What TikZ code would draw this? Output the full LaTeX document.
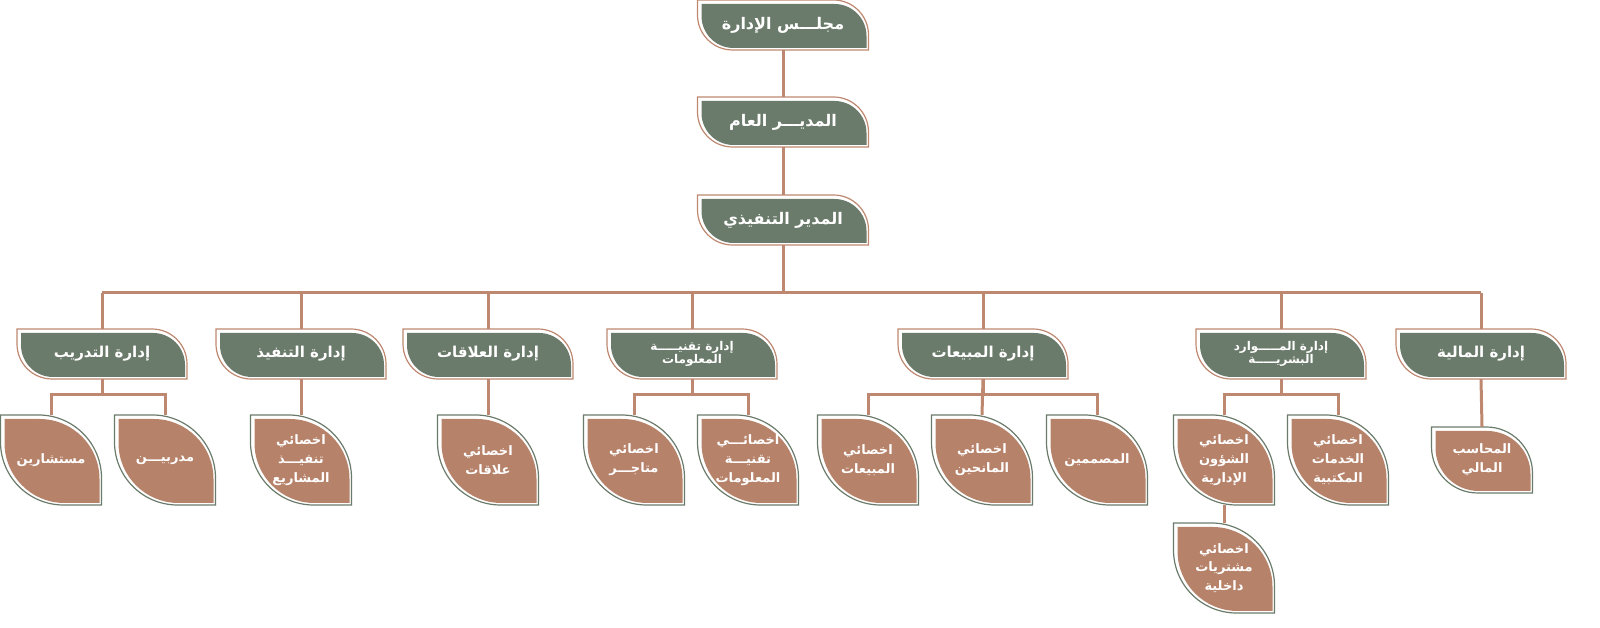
\documentclass[tikz,border=0pt]{standalone}
\usepackage{fontspec}
\TeXXeTstate=1
\newfontfamily\arabicfont[Script=Arabic]{DejaVu Sans}
\definecolor{grn}{HTML}{6B7B6B}
\definecolor{brn}{HTML}{B7826A}
\definecolor{lnc}{HTML}{BE8770}
\newcommand\ar[1]{\beginR #1\endR}
% name, cx, cy(image), w, h, fill, line, text, fontsize
\newcommand\obox[9]{%
  \pgfmathsetmacro\Lx{#2-#4/2}\pgfmathsetmacro\Rx{#2+#4/2}%
  \pgfmathsetmacro\Ty{628-#3+#5/2}\pgfmathsetmacro\By{628-#3-#5/2}%
  \pgfmathsetmacro\rr{min(#4,#5)*0.7}%
  \pgfmathsetmacro\LxI{\Lx+4}\pgfmathsetmacro\RxI{\Rx-2}%
  \pgfmathsetmacro\TyI{\Ty-4}\pgfmathsetmacro\ByI{\By+2}%
  \pgfmathsetmacro\ri{\rr-3}%
  \pgfmathsetmacro\bls{#9*1.45}%
  \draw[#7,line width=1.2pt] (\Lx,\Ty) -- ({\Rx-\rr},\Ty) arc[start angle=90,end angle=0,radius=\rr] -- (\Rx,\By) -- ({\Lx+\rr},\By) arc[start angle=270,end angle=180,radius=\rr] -- cycle;
  \fill[#6] (\LxI,\TyI) -- ({\RxI-\ri},\TyI) arc[start angle=90,end angle=0,radius=\ri] -- (\RxI,\ByI) -- ({\LxI+\ri},\ByI) arc[start angle=270,end angle=180,radius=\ri] -- cycle;
  \node[minimum width=#4,minimum height=#5,inner sep=0,align=center,text=white,font=\arabicfont\bfseries\fontsize{#9}{\bls}\selectfont] (#1) at (#2,628-#3) {#8};%
}
\newcommand\sub[3]{\draw[conn] (#1.south) -- (#1.south |- 0,628-395); \draw[conn] (#2.north) |- (#1.south |- 0,628-395) -| (#3.north);}
\tikzset{conn/.style={lnc,line width=3pt}}
\begin{document}
\begin{tikzpicture}[x=1pt,y=1pt]
% top chain
\obox{board}{783}{25}{171}{50}{grn}{lnc}{\ar{مجلـــس الإدارة}}{16}
\obox{gm}{783}{122}{171}{50}{grn}{lnc}{\ar{المديـــر العام}}{16}
\obox{ceo}{783}{220}{171}{50}{grn}{lnc}{\ar{المدير التنفيذي}}{16}
\draw[conn] (board.south) -- (gm.north);
\draw[conn] (gm.south) -- (ceo.north);
% departments
\obox{d1}{102}{354}{170}{50}{grn}{lnc}{\ar{إدارة التدريب}}{15}
\obox{d2}{301}{354}{170}{50}{grn}{lnc}{\ar{إدارة التنفيذ}}{15}
\obox{d3}{488}{354}{170}{50}{grn}{lnc}{\ar{إدارة العلاقات}}{15}
\obox{d4}{692}{354}{170}{50}{grn}{lnc}{\ar{إدارة تقنيـــــة}\\[-5pt]\ar{المعلومات}}{12}
\obox{d5}{983}{354}{170}{50}{grn}{lnc}{\ar{إدارة المبيعات}}{15}
\obox{d6}{1281}{354}{170}{50}{grn}{lnc}{\ar{إدارة المـــــوارد}\\[-5pt]\ar{البشريـــــة}}{12}
\obox{d7}{1481}{354}{170}{50}{grn}{lnc}{\ar{إدارة المالية}}{15}
\coordinate (busL) at (102,628-293);
\coordinate (busR) at (1481,628-293);
\draw[conn] (ceo.south) -- (783,628-293);
\draw[conn] (busL) -- (busR);
\foreach \d in {d1,d2,d3,d4,d5,d6,d7} \draw[conn] (\d.north |- busL) -- (\d.north);
% children
\obox{c1}{51}{460}{101}{90}{brn}{grn}{\ar{مستشارين}}{13}
\obox{c2}{165}{460}{101}{90}{brn}{grn}{\ar{مدربيـــن}}{13}
\obox{c3}{301}{460}{101}{90}{brn}{grn}{\ar{اخصائي}\\\ar{تنفيـــذ}\\\ar{المشاريع}}{13}
\obox{c4}{488}{460}{101}{90}{brn}{grn}{\ar{اخصائي}\\\ar{علاقات}}{13}
\obox{c5}{634}{460}{101}{90}{brn}{grn}{\ar{اخصائي}\\\ar{متاجـــر}}{13}
\obox{c6}{748}{460}{101}{90}{brn}{grn}{\ar{اخصائـــي}\\\ar{تقنيـــة}\\\ar{المعلومات}}{13}
\obox{c7}{868}{460}{101}{90}{brn}{grn}{\ar{اخصائي}\\\ar{المبيعات}}{13}
\obox{c8}{982}{460}{101}{90}{brn}{grn}{\ar{اخصائي}\\\ar{المانحين}}{13}
\obox{c9}{1097}{460}{101}{90}{brn}{grn}{\ar{المصممين}}{13}
\obox{c10}{1224}{460}{101}{90}{brn}{grn}{\ar{اخصائي}\\\ar{الشؤون}\\\ar{الإدارية}}{13}
\obox{c11}{1338}{460}{101}{90}{brn}{grn}{\ar{اخصائي}\\\ar{الخدمات}\\\ar{المكتبية}}{13}
\obox{c12}{1224}{568}{101}{90}{brn}{grn}{\ar{اخصائي}\\\ar{مشتريات}\\\ar{داخلية}}{13}
\obox{c13}{1482}{460}{101}{66}{brn}{grn}{\ar{المحاسب}\\\ar{المالي}}{13}
% sub-buses
\sub{d1}{c1}{c2}
\sub{d4}{c5}{c6}
\sub{d5}{c7}{c9}
\draw[conn] (d5.south) -- (c8.north);
\sub{d6}{c10}{c11}
\draw[conn] (d2.south) -- (c3.north);
\draw[conn] (d3.south) -- (c4.north);
\draw[conn] (d7.south) -- (c13.north);
\draw[conn] (c10.south) -- (c12.north);
\pgfresetboundingbox
\useasboundingbox (0,0) rectangle (1600,628);
\end{tikzpicture}
\end{document}
